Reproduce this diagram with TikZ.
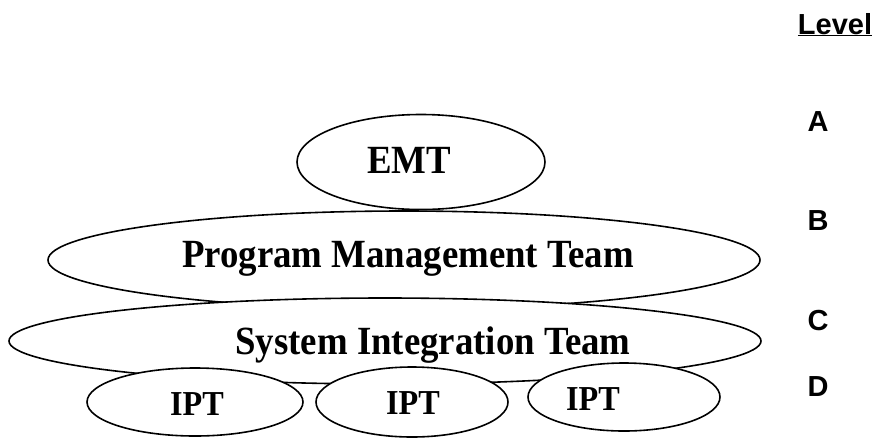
\documentclass[tikz,border=0pt]{standalone}
\usepackage{fontspec}
\setmainfont{Liberation Serif}
\setsansfont{Liberation Sans}
\usetikzlibrary{shapes.geometric}
\tikzset{
	team/.style={draw, ellipse, inner sep=0pt, line width=1.6pt, fill=white},
	teamname/.style={anchor=base, inner sep=0pt, xscale=0.92, transform shape, font=\fontsize{40}{44}\selectfont\bfseries},
	iptname/.style={anchor=base, inner sep=0pt, xscale=0.92, transform shape, font=\fontsize{35}{38}\selectfont\bfseries},
	% level letters on the right
	level/.style={anchor=base, inner sep=0pt, font=\fontsize{29}{31}\selectfont\sffamily\bfseries},
}

\begin{document}
\begin{tikzpicture}[x=1pt, y=-1pt]
	\useasboundingbox (0,0) rectangle (875,440);
	
	\node (pmt) [team, minimum width=712pt, minimum height=98pt] at (404,260) {};
	\node (emt) [team, minimum width=248pt, minimum height=95pt] at (421,162) {};
	\node (sit) [team, minimum width=752pt, minimum height=86pt] at (385,341) {};
	
	\node (ipt1) [team, minimum width=216pt, minimum height=68pt] at (195,402) {};
	\node (ipt2) [team, minimum width=192pt, minimum height=70pt] at (412,402) {};
	\node (ipt3) [team, minimum width=192pt, minimum height=68pt] at (624,397) {};
	
	\node (emtname) [teamname] at (409,173) {EMT};
	\node (pmtname) [teamname] at (408,267) {Program Management Team};
	\node (sitname) [teamname] at (433,354) {System Integration Team};
	
	\node (ipt1name) [iptname] at (197,415) {IPT};
	\node (ipt2name) [iptname] at (413,414) {IPT};
	\node (ipt3name) [iptname] at (593,410) {IPT};
	
	\node (levelhead) [level] at (835,34) {\underline{Level}};
	\node (levA) [level] at (818,131) {A};
	\node (levB) [level] at (818,230) {B};
	\node (levC) [level] at (818,330) {C};
	\node (levD) [level] at (818,396) {D};
	
\end{tikzpicture}
\end{document}
